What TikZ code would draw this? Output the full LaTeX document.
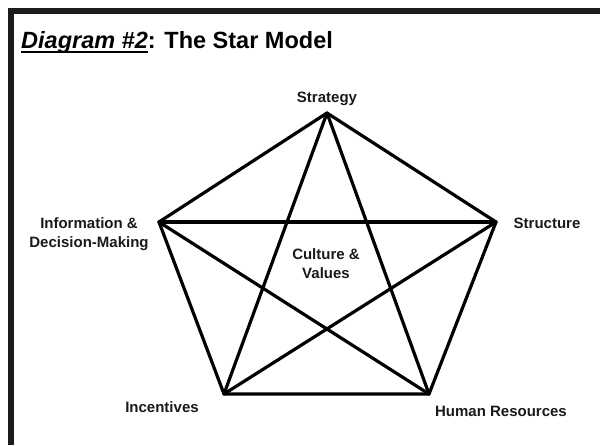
\documentclass[tikz,border=0pt]{standalone}
\usepackage{fontspec}
\setmainfont{Liberation Sans}
\definecolor{framec}{HTML}{1C1C1C}
\definecolor{inkc}{HTML}{1A1A1A}
\newcommand\myuline[1]{\setbox0\hbox{#1}\rlap{\raisebox{-4.6pt}{\rule{\wd0}{1.6pt}}}\box0}
\begin{document}
\begin{tikzpicture}[x=1pt,y=-1pt,
  edge/.style={line width=3.2pt, line join=round, line cap=round, draw=black},
  lbl/.style={font=\fontsize{15}{19}\selectfont\bfseries, inner sep=0pt, align=center, text=inkc},
  framebar/.style={fill=framec, draw=none}]
\useasboundingbox (0,0) rectangle (600,445);
\fill[white] (0,0) rectangle (600,445);
% frame
\fill[framebar] (8,8) rectangle (600,14);
\fill[framebar] (8,8) rectangle (13.5,445);
% title
\node[anchor=base west, inner sep=0pt, text=black] (title) at (21,48.3)
  {\fontsize{23.5}{28}\selectfont\bfseries\myuline{\itshape Diagram \#2}: The Star Model};
% vertices
\coordinate (S) at (327,113);
\coordinate (R) at (496,222);
\coordinate (H) at (429,394);
\coordinate (I) at (224,394);
\coordinate (L) at (159,222);
% pentagon
\draw[edge] (S) -- (R) -- (H) -- (I) -- (L) -- cycle;
% star
\draw[edge] (S) -- (H);
\draw[edge] (S) -- (I);
\draw[edge] (R) -- (I);
\draw[edge] (R) -- (L);
\draw[edge] (L) -- (H);
% labels
\node[lbl, anchor=base] (strategy) at (327,102.7) {Strategy};
\node[lbl, anchor=base] (structure) at (547,228) {Structure};
\node[lbl, anchor=base] (info1) at (89,228) {Information \&};
\node[lbl, anchor=base] (info2) at (89,247) {Decision-Making};
\node[lbl, anchor=base] (cult1) at (326,259) {Culture \&};
\node[lbl, anchor=base] (cult2) at (326,278) {Values};
\node[lbl, anchor=base] (incent) at (162,412) {Incentives};
\node[lbl, anchor=base] (hr) at (501,416.7) {Human Resources};
\end{tikzpicture}
\end{document}
